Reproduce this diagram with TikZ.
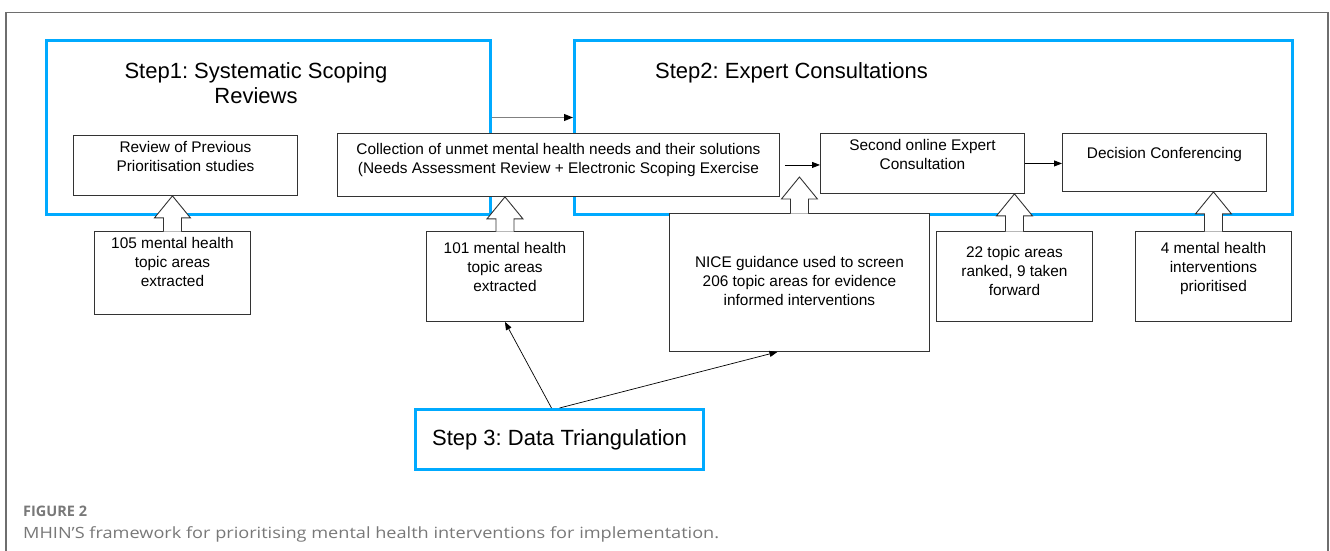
\documentclass[tikz,border=0pt]{standalone}
\usepackage{fontspec}
\setmainfont{Liberation Sans}
\newfontfamily\capfont[FakeStretch=1.17]{Open Sans}
\newfontfamily\labfont{Open Sans}
\usetikzlibrary{arrows.meta,calc}
\definecolor{stepblue}{RGB}{0,170,255}
\definecolor{framegray}{RGB}{110,110,110}
\definecolor{capgray}{RGB}{120,120,120}
\frenchspacing

% hollow block arrow from the top of #1 up to the point #2
\newcommand{\hollowup}[2]{%
	\draw[hollow] let \p1=(#1.north), \p2=(#2) in
	(\x1-9pt,\y1-0.6pt) -- (\x1-9pt,\y2-22pt) -- (\x1-18pt,\y2-22pt) -- (\x1,\y2)
	-- (\x1+18pt,\y2-22pt) -- (\x1+9pt,\y2-22pt) -- (\x1+9pt,\y1-0.6pt);}

\begin{document}
\begin{tikzpicture}[x=1pt,y=-1pt,>={Triangle[length=8pt,width=6pt]},
	stepbox/.style={draw=stepblue, line width=3pt, inner sep=0pt, anchor=north west},
	box/.style={draw=black!80, line width=0.9pt, fill=white, inner sep=0pt, anchor=north west},
	txt/.style={inner sep=0pt, align=center, font=\fontsize{15.4}{19}\selectfont},
	title/.style={inner sep=0pt, align=center, font=\fontsize{22}{25}\selectfont},
	hollow/.style={draw=black!80, line width=0.9pt, fill=white, line join=miter}]
	\useasboundingbox (0,0) rectangle (1330,551);
	\draw[framegray, line width=1.2pt] (6,560) -- (6,12.5) -- (1328,12.5) -- (1328,560);

	%% ========================================================
	% the three steps
	\node[stepbox, minimum width=444, minimum height=174] (s1) at (45,39) {};
	\node[title, anchor=north] (s1title) at (256,62) {Step1: Systematic Scoping\\Reviews};

	\node[stepbox, minimum width=718, minimum height=174] (s2) at (573,39) {};
	\node[title, anchor=north west] (s2title) at (655,62.5) {Step2: Expert Consultations};

	\node[stepbox, minimum width=288, minimum height=60, title] (s3) at (414,408) {Step 3: Data Triangulation};

	%% ========================================================
	% boxes inside the steps
	\node[box, minimum width=224, minimum height=60] (rev) at (73,135) {};
	\node[txt, below=6.3pt] (revtxt) at (rev.north) {Review of Previous\\Prioritisation studies};

	\node[box, minimum width=442, minimum height=63] (coll) at (337,133) {};
	\node[txt, below=10.3pt] (colltxt) at (coll.north) {Collection of unmet mental health needs and their solutions\\(Needs Assessment Review + Electronic Scoping Exercise};

	\node[box, minimum width=204, minimum height=60] (sec) at (820,133) {};
	\node[txt, below=6.3pt] (sectxt) at (sec.north) {Second online Expert\\Consultation};

	\node[box, minimum width=204, minimum height=58] (dec) at (1062,133) {};
	\node[txt, below=14.3pt] (dectxt) at (dec.north) {Decision Conferencing};

	%% ========================================================
	% outcomes below
	\node[box, minimum width=156, minimum height=83] (n105) at (94,231) {};
	\node[txt, below=6.3pt] (n105txt) at (n105.north) {105 mental health\\topic areas\\extracted};

	\node[box, minimum width=157, minimum height=90] (n101) at (426,231) {};
	\node[txt, below=11.3pt] (n101txt) at (n101.north) {101 mental health\\topic areas\\extracted};

	\node[box, minimum width=260, minimum height=138] (nice) at (669,213) {};
	\node[txt, below=43.3pt] (nicetxt) at (nice.north) {NICE guidance used to screen\\206 topic areas for evidence\\informed interventions};

	\node[box, minimum width=156, minimum height=90] (n22) at (936,231) {};
	\node[txt, below=15.3pt] (n22txt) at (n22.north) {22 topic areas\\ranked, 9 taken\\forward};

	\node[box, minimum width=156, minimum height=90] (n4) at (1135,231) {};
	\node[txt, below=11.3pt] (n4txt) at (n4.north) {4 mental health\\interventions\\prioritised};

	%% ========================================================
	% block arrows
	\hollowup{n105}{rev.south}
	\hollowup{n101}{coll.south}
	\coordinate (gap) at (799,177);
	\hollowup{nice}{gap}
	\hollowup{n22}{sec.south}
	\hollowup{n4}{dec.south}

	% plain arrows
	\draw[-{Triangle[length=9pt,width=7pt,color=black]}, gray, line width=1pt] ([yshift=10pt]s1.east) -- ([yshift=10pt]s2.west);
	\draw[->, line width=0.8pt] ([xshift=5pt]coll.east) -- (coll.east -| sec.west);
	\draw[->, line width=0.8pt] (sec.east) -- (sec.east -| dec.west);
	\draw[->, line width=0.7pt] ([xshift=-8pt]s3.north) -- (n101.south);
	\draw[->, line width=0.7pt] (s3.north) -- ([xshift=-22pt]nice.south);

	%% ========================================================
	% caption
	\node[anchor=base west, inner sep=0pt, font=\labfont\bfseries\fontsize{14.5}{16}\selectfont, text=capgray] (figlabel) at (23,516.7) {FIGURE 2};
	\node[anchor=base west, inner sep=0pt, font=\capfont\fontsize{15.5}{18}\selectfont, text=capgray] (caption) at (23,538.5) {MHIN’S framework for prioritising mental health interventions for implementation.};
\end{tikzpicture}
\end{document}
